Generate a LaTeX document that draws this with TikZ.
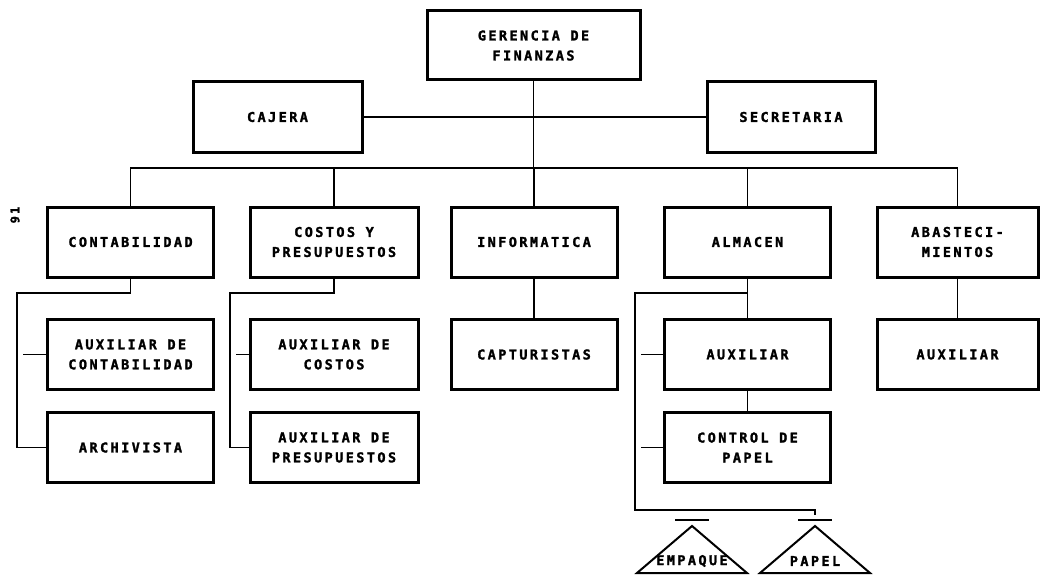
\documentclass[tikz,border=0pt]{standalone}
\usepackage{fontspec}
\usetikzlibrary{positioning}
\newfontfamily\orgfont[LetterSpace=18, FakeBold=1.8]{DejaVu Sans Mono Bold}
\tikzset{
	puesto/.style={
		draw,
		rectangle,
		line width=3pt,
		minimum width=166pt,
		minimum height=70pt,
		inner sep=0pt,
		align=center,
		font=\orgfont\fontsize{13.5}{20}\selectfont
	},
	linea/.style={
		line width=1.3pt
	},
	externo/.style={
		line width=2pt,
		line join=miter
	},
	rotulo/.style={
		inner sep=0pt,
		font=\orgfont\fontsize{13.5}{20}\selectfont
	}
}

\begin{document}
\begin{tikzpicture}[x=1pt, y=-1pt]
	\useasboundingbox (0,0) rectangle (1040,575);
	
	\node [puesto, minimum width=213pt, minimum height=69pt] (gerencia) at (533.5,45.5) {GERENCIA DE\\FINANZAS};
	\node [puesto, minimum width=169pt] (cajera) at (277.5,117) {CAJERA};
	\node [puesto, minimum width=168pt] (secretaria) at (791,117) {SECRETARIA};
	
	\node [puesto] (contabilidad) at (130.5,242) {CONTABILIDAD};
	\node [puesto, minimum width=168pt] (costos) at (334,242) {COSTOS Y\\PRESUPUESTOS};
	\node [puesto] (informatica) at (534,242) {INFORMATICA};
	\node [puesto] (almacen) at (747.5,242) {ALMACEN};
	\node [puesto, minimum width=161pt] (abastecimientos) at (957.5,242) {ABASTECI-\\MIENTOS};
	
	\node [puesto] (auxcontab) at (130.5,354.5) {AUXILIAR DE\\CONTABILIDAD};
	\node [puesto] (archivista) at (130.5,447.5) {ARCHIVISTA};
	\node [puesto, minimum width=168pt] (auxcostos) at (334,354.5) {AUXILIAR DE\\COSTOS};
	\node [puesto, minimum width=168pt] (auxpresup) at (334,447.5) {AUXILIAR DE\\PRESUPUESTOS};
	\node [puesto] (capturistas) at (534,354.5) {CAPTURISTAS};
	\node [puesto] (auxalmacen) at (747.5,354.5) {AUXILIAR};
	\node [puesto] (ctrlpapel) at (747.5,447.5) {CONTROL DE\\PAPEL};
	\node [puesto, minimum width=161pt] (auxabast) at (957.5,354.5) {AUXILIAR};
	
	\node [rotate=90, font=\orgfont\fontsize{12}{12}\selectfont] (pagina) at (15,215) {91};
	
	% niveles superiores
	\coordinate (busL) at (130.5,168);
	\coordinate (busR) at (957.5,168);
	\draw [linea] (cajera.east) -- (secretaria.west);
	\draw [linea] (gerencia.south) -- (gerencia.south |- busL);
	\draw [linea] (contabilidad.north) -- (busL) -- (busR) -- (abastecimientos.north);
	\foreach \n in {costos, informatica, almacen}
		\draw [linea] (\n.north) -- (\n.north |- busL);
	
	% contabilidad y costos
	\coordinate (railcont) at (17,293);
	\coordinate (railcost) at (230,293);
	\draw [linea] (contabilidad.south) |- (railcont) |- (archivista.west);
	\draw [linea] (auxcontab.west) -- ++(-23,0);
	\draw [linea] (costos.south) |- (railcost) |- (auxpresup.west);
	\draw [linea] (auxcostos.west) -- ++(-13,0);
	
	\draw [linea] (informatica.south) -- (capturistas.north);
	\draw [linea] (abastecimientos.south) -- (auxabast.north);
	
	% almacen
	\coordinate (railalm) at (635,293);
	\coordinate (railend) at (635,510);
	\coordinate (papeltop) at (815,515);
	\draw [linea] (almacen.south) |- (railalm) -- (railend) -| (papeltop);
	\draw [linea] (almacen.south) -- (auxalmacen.north);
	\draw [linea] (auxalmacen.south) -- (ctrlpapel.north);
	\draw [linea] (auxalmacen.west) -- ++(-22,0);
	\draw [linea] (ctrlpapel.west) -- ++(-22,0);
	
	\foreach \cx/\txt/\nm in {692/EMPAQUE/empaque, 815/PAPEL/papel} {
		\draw [externo] (\cx-55,573) -- (\cx,526) -- (\cx+55,573) -- cycle;
		\draw [externo] (\cx-17,520) -- (\cx+17,520);
		\node [rotulo] (\nm) at (\cx,561) {\txt};
	}
\end{tikzpicture}
\end{document}
